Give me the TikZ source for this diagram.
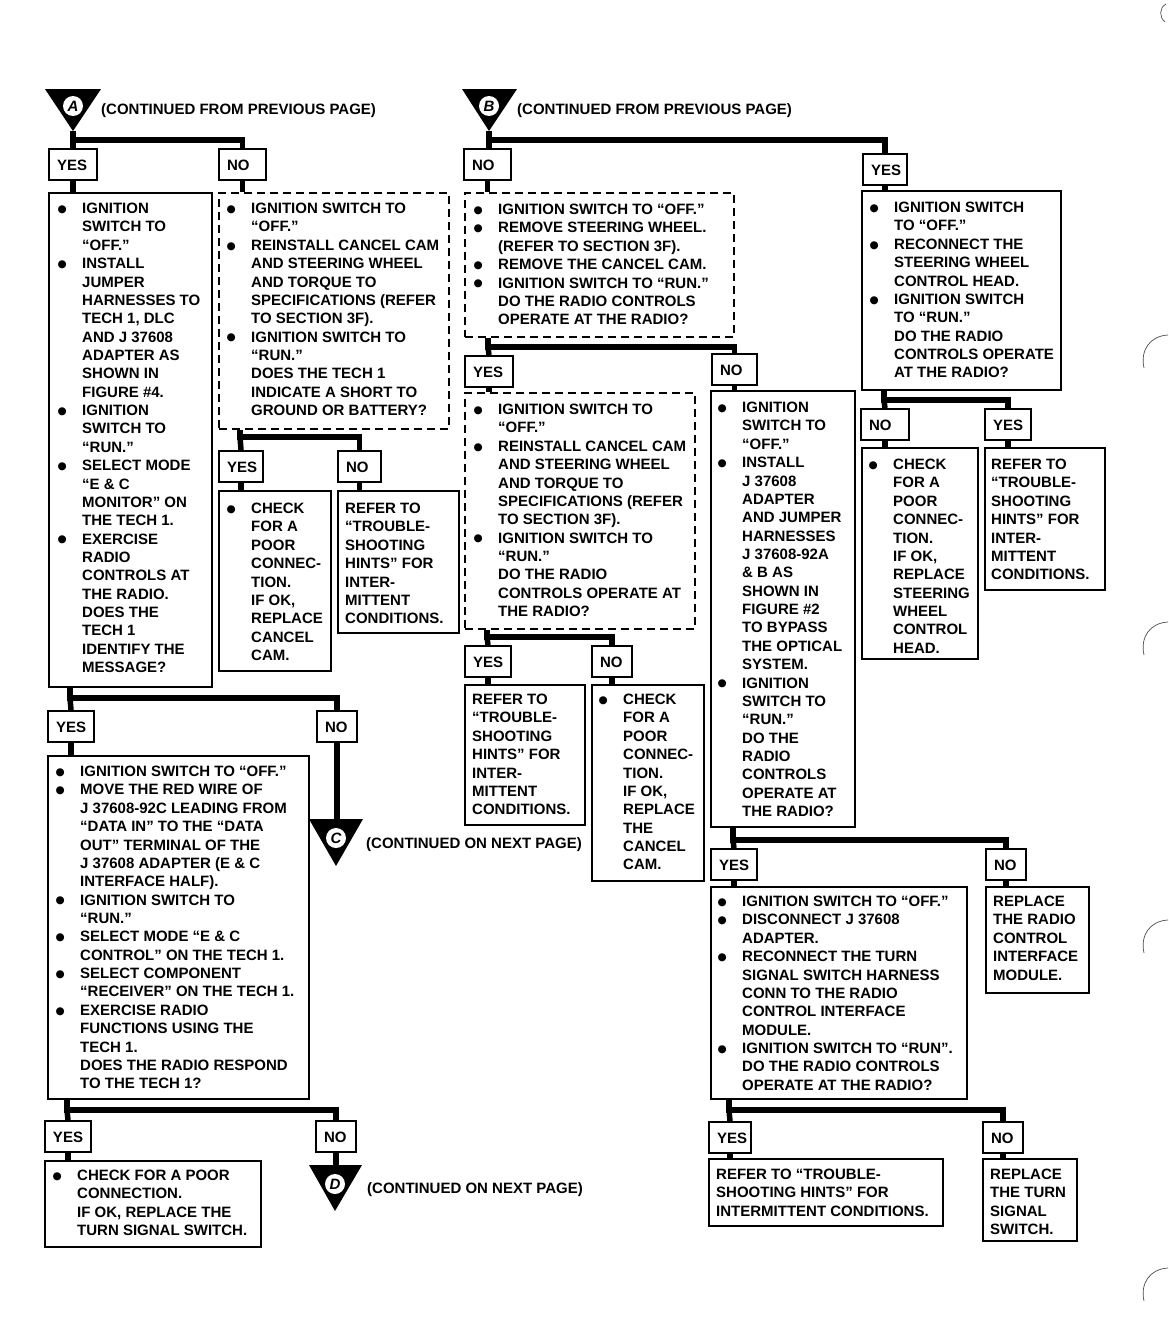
\documentclass[tikz,border=0pt]{standalone}
\usepackage{fontspec}
\setmainfont{Liberation Sans}
\newfontfamily\dejavu{DejaVu Sans}
\newcommand{\bfnt}{\fontsize{15}{18.36}\selectfont\bfseries}
\newcommand{\bl}{\makebox[24.5pt][l]{\raisebox{1.2pt}{\dejavu\fontsize{10.5}{10.5}\selectfont ●}}}
\newcommand{\ii}{\makebox[24.5pt][l]{}}
\newcommand{\st}{\rule{0pt}{12pt}}
\newcommand{\lb}[2]{\makebox[#1pt][l]{\hspace{8pt}#2}}
\tikzset{
  box/.style={draw, line width=2pt, rectangle, inner sep=0pt, anchor=north west},
  dbox/.style={box, dash pattern=on 8pt off 5pt},
  lab/.style={draw, line width=2pt, rectangle, anchor=north west, inner xsep=0pt, inner ysep=0pt,
    minimum height=31pt, text height=11pt, text depth=0pt, font=\bfnt},
  txt/.style={anchor=north west, inner sep=0pt, align=left, font=\bfnt},
  cont/.style={anchor=base west, inner sep=0pt, font=\bfnt},
  conn/.style={line width=5.5pt},
  tri/.style={fill=black},
  letter/.style={circle, fill=white, inner sep=0pt, minimum size=20pt,
    font=\fontsize{15}{15}\selectfont\bfseries\itshape},
  hole/.style={line width=0.7pt, black!70}
}
\begin{document}
\begin{tikzpicture}[x=1pt,y=-1pt]
\useasboundingbox (0,0) rectangle (1168,1328);

% ---------- triangles ----------
\fill[tri] (45,89) -- (101,89) -- (73,131) -- cycle;
\node[letter] (tA) at (73,106) {A};
\coordinate (tAa) at (73,131);
\node[cont] (cA) at (101,114.4) {(CONTINUED FROM PREVIOUS PAGE)};

\fill[tri] (462,89) -- (517,89) -- (489,131) -- cycle;
\node[letter] (tB) at (489,106) {B};
\coordinate (tBa) at (489,131);
\node[cont] (cB) at (517,114.4) {(CONTINUED FROM PREVIOUS PAGE)};

\fill[tri] (309,819) -- (363,819) -- (336,866) -- cycle;
\node[letter] (tC) at (336,838) {C};
\coordinate (tCt) at (336,819);
\node[cont] (cC) at (366,848.4) {(CONTINUED ON NEXT PAGE)};

\fill[tri] (309,1165) -- (362,1165) -- (335,1211) -- cycle;
\node[letter] (tD) at (335,1184) {D};
\coordinate (tDt) at (335,1165);
\node[cont] (cD) at (367,1193.4) {(CONTINUED ON NEXT PAGE)};

% ---------- labels ----------
\node[lab] (yA0) at (48,148) {\lb{48}{YES}};
\node[lab] (nA0) at (218,148) {\lb{47}{NO}};
\node[lab] (yA2) at (218,450) {\lb{44}{YES}};
\node[lab] (nA2) at (337,450) {\lb{43}{NO}};
\node[lab] (yA1) at (47,710) {\lb{46}{YES}};
\node[lab] (nA1) at (316,710) {\lb{40}{NO}};
\node[lab] (yA3) at (44,1120) {\lb{46}{YES}};
\node[lab] (nA3) at (315,1120) {\lb{40}{NO}};
\node[lab] (nB0) at (463,148) {\lb{47}{NO}};
\node[lab] (yB0) at (862,153) {\lb{44}{YES}};
\node[lab] (yB1) at (464,355) {\lb{48}{YES}};
\node[lab] (nB1) at (711,353) {\lb{45}{NO}};
\node[lab] (yB2) at (464,645) {\lb{46}{YES}};
\node[lab] (nB2) at (591,645) {\lb{40}{NO}};
\node[lab] (yB3) at (710,848) {\lb{46}{YES}};
\node[lab] (nB3) at (985,848) {\lb{40}{NO}};
\node[lab] (yB5) at (708,1121) {\lb{42}{YES}};
\node[lab] (nB5) at (982,1121) {\lb{40}{NO}};
\node[lab] (nR1) at (860,408) {\lb{48}{NO}};
\node[lab] (yR1) at (984,408) {\lb{46}{YES}};

% ---------- boxes ----------
\node[box, minimum width=163, minimum height=494] (a1) at (48,192) {};
\node[dbox, minimum width=230, minimum height=236] (a2) at (218,192) {};
\node[box, minimum width=112, minimum height=180] (a2c) at (218,490) {};
\node[box, minimum width=121, minimum height=142] (a2r) at (337,490) {};
\node[box, minimum width=261, minimum height=343] (a3) at (47,755) {};
\node[box, minimum width=216, minimum height=86] (a4) at (44,1160) {};
\node[dbox, minimum width=269, minimum height=144] (b1) at (464,192) {};
\node[box, minimum width=199, minimum height=199] (r1) at (861,190) {};
\node[dbox, minimum width=230, minimum height=236] (b2) at (464,392) {};
\node[box, minimum width=144, minimum height=436] (b3) at (710,390) {};
\node[box, minimum width=120, minimum height=140] (b2r) at (464,684) {};
\node[box, minimum width=112, minimum height=196] (b2c) at (591,684) {};
\node[box, minimum width=256, minimum height=212] (b5) at (710,886) {};
\node[box, minimum width=103, minimum height=106] (b5n) at (985,886) {};
\node[box, minimum width=234, minimum height=67] (b6r) at (708,1158) {};
\node[box, minimum width=94, minimum height=82] (b6n) at (982,1158) {};
\node[box, minimum width=116, minimum height=211] (r2c) at (861,447) {};
\node[box, minimum width=120, minimum height=142] (r2r) at (984,447) {};

% ---------- texts ----------
\node[txt] (a1t) at (57.5,201.4) {\st\bl IGNITION\\ \ii SWITCH TO\\ \ii “OFF.”\\ \bl INSTALL\\ \ii JUMPER\\ \ii HARNESSES TO\\ \ii TECH 1, DLC\\ \ii AND J 37608\\ \ii ADAPTER AS\\ \ii SHOWN IN\\ \ii FIGURE \#4.\\ \bl IGNITION\\ \ii SWITCH TO\\ \ii “RUN.”\\ \bl SELECT MODE\\ \ii “E \& C\\ \ii MONITOR” ON\\ \ii THE TECH 1.\\ \bl EXERCISE\\ \ii RADIO\\ \ii CONTROLS AT\\ \ii THE RADIO.\\ \ii DOES THE\\ \ii TECH 1\\ \ii IDENTIFY THE\\ \ii MESSAGE?};

\node[txt] (a2t) at (226.5,201.4) {\st\bl IGNITION SWITCH TO\\ \ii “OFF.”\\ \bl REINSTALL CANCEL CAM\\ \ii AND STEERING WHEEL\\ \ii AND TORQUE TO\\ \ii SPECIFICATIONS (REFER\\ \ii TO SECTION 3F).\\ \bl IGNITION SWITCH TO\\ \ii “RUN.”\\ \ii DOES THE TECH 1\\ \ii INDICATE A SHORT TO\\ \ii GROUND OR BATTERY?};

\node[txt] (a2ct) at (226.5,501.4) {\st\bl CHECK\\ \ii FOR A\\ \ii POOR\\ \ii CONNEC-\\ \ii TION.\\ \ii IF OK,\\ \ii REPLACE\\ \ii CANCEL\\ \ii CAM.};

\node[txt] (a2rt) at (345,501.4) {\st REFER TO\\ “TROUBLE-\\ SHOOTING\\ HINTS” FOR\\ INTER-\\ MITTENT\\ CONDITIONS.};

\node[txt] (a3t) at (55.5,764.4) {\st\bl IGNITION SWITCH TO “OFF.”\\ \bl MOVE THE RED WIRE OF\\ \ii J 37608-92C LEADING FROM\\ \ii “DATA IN” TO THE “DATA\\ \ii OUT” TERMINAL OF THE\\ \ii J 37608 ADAPTER (E \& C\\ \ii INTERFACE HALF).\\ \bl IGNITION SWITCH TO\\ \ii “RUN.”\\ \bl SELECT MODE “E \& C\\ \ii CONTROL” ON THE TECH 1.\\ \bl SELECT COMPONENT\\ \ii “RECEIVER” ON THE TECH 1.\\ \bl EXERCISE RADIO\\ \ii FUNCTIONS USING THE\\ \ii TECH 1.\\ \ii DOES THE RADIO RESPOND\\ \ii TO THE TECH 1?};

\node[txt] (a4t) at (52.5,1168.4) {\st\bl CHECK FOR A POOR\\ \ii CONNECTION.\\ \ii IF OK, REPLACE THE\\ \ii TURN SIGNAL SWITCH.};

\node[txt] (b1t) at (473.5,202.4) {\st\bl IGNITION SWITCH TO “OFF.”\\ \bl REMOVE STEERING WHEEL.\\ \ii (REFER TO SECTION 3F).\\ \bl REMOVE THE CANCEL CAM.\\ \bl IGNITION SWITCH TO “RUN.”\\ \ii DO THE RADIO CONTROLS\\ \ii OPERATE AT THE RADIO?};

\node[txt] (r1t) at (869.5,200.4) {\st\bl IGNITION SWITCH\\ \ii TO “OFF.”\\ \bl RECONNECT THE\\ \ii STEERING WHEEL\\ \ii CONTROL HEAD.\\ \bl IGNITION SWITCH\\ \ii TO “RUN.”\\ \ii DO THE RADIO\\ \ii CONTROLS OPERATE\\ \ii AT THE RADIO?};

\node[txt] (b2t) at (473.5,402.4) {\st\bl IGNITION SWITCH TO\\ \ii “OFF.”\\ \bl REINSTALL CANCEL CAM\\ \ii AND STEERING WHEEL\\ \ii AND TORQUE TO\\ \ii SPECIFICATIONS (REFER\\ \ii TO SECTION 3F).\\ \bl IGNITION SWITCH TO\\ \ii “RUN.”\\ \ii DO THE RADIO\\ \ii CONTROLS OPERATE AT\\ \ii THE RADIO?};

\node[txt] (b3t) at (717.5,400.4) {\st\bl IGNITION\\ \ii SWITCH TO\\ \ii “OFF.”\\ \bl INSTALL\\ \ii J 37608\\ \ii ADAPTER\\ \ii AND JUMPER\\ \ii HARNESSES\\ \ii J 37608-92A\\ \ii \& B AS\\ \ii SHOWN IN\\ \ii FIGURE \#2\\ \ii TO BYPASS\\ \ii THE OPTICAL\\ \ii SYSTEM.\\ \bl IGNITION\\ \ii SWITCH TO\\ \ii “RUN.”\\ \ii DO THE\\ \ii RADIO\\ \ii CONTROLS\\ \ii OPERATE AT\\ \ii THE RADIO?};

\node[txt] (b2rt) at (472,692.4) {\st REFER TO\\ “TROUBLE-\\ SHOOTING\\ HINTS” FOR\\ INTER-\\ MITTENT\\ CONDITIONS.};

\node[txt] (b2ct) at (598.5,692.4) {\st\bl CHECK\\ \ii FOR A\\ \ii POOR\\ \ii CONNEC-\\ \ii TION.\\ \ii IF OK,\\ \ii REPLACE\\ \ii THE\\ \ii CANCEL\\ \ii CAM.};

\node[txt] (b5t) at (717.5,894.4) {\st\bl IGNITION SWITCH TO “OFF.”\\ \bl DISCONNECT J 37608\\ \ii ADAPTER.\\ \bl RECONNECT THE TURN\\ \ii SIGNAL SWITCH HARNESS\\ \ii CONN TO THE RADIO\\ \ii CONTROL INTERFACE\\ \ii MODULE.\\ \bl IGNITION SWITCH TO “RUN”.\\ \ii DO THE RADIO CONTROLS\\ \ii OPERATE AT THE RADIO?};

\node[txt] (b5nt) at (993,894.4) {\st REPLACE\\ THE RADIO\\ CONTROL\\ INTERFACE\\ MODULE.};

\node[txt] (b6rt) at (716,1167.4) {\st REFER TO “TROUBLE-\\ SHOOTING HINTS” FOR\\ INTERMITTENT CONDITIONS.};

\node[txt] (b6nt) at (990,1167.4) {\st REPLACE\\ THE TURN\\ SIGNAL\\ SWITCH.};

\node[txt] (r2ct) at (868.5,457.4) {\st\bl CHECK\\ \ii FOR A\\ \ii POOR\\ \ii CONNEC-\\ \ii TION.\\ \ii IF OK,\\ \ii REPLACE\\ \ii STEERING\\ \ii WHEEL\\ \ii CONTROL\\ \ii HEAD.};

\node[txt] (r2rt) at (991,457.4) {\st REFER TO\\ “TROUBLE-\\ SHOOTING\\ HINTS” FOR\\ INTER-\\ MITTENT\\ CONDITIONS.};

% ---------- connectors ----------
% A entry
\coordinate (jA0) at (73,140);
\draw[conn] (tAa) |- (nA0.north |- jA0) -- (nA0.north);
\draw[conn] (jA0) -- (jA0 |- yA0.north);
\draw[conn] (yA0.south) -- (yA0.south |- a1.north);
\draw[conn] (nA0.south) -- (nA0.south |- a2.north);
% A2 decision
\coordinate (jA2) at (240,437);
\draw[conn] (jA2 |- a2.south) |- (nA2.north |- jA2) -- (nA2.north);
\draw[conn] (jA2) -- (yA2.north);
\draw[conn] (yA2.south) -- (yA2.south |- a2c.north);
\draw[conn] (nA2.south) -- (nA2.south |- a2r.north);
% A1 decision
\coordinate (jA1) at (70,698);
\draw[conn] (jA1 |- a1.south) |- (nA1.north |- jA1) -- (nA1.north);
\draw[conn] (jA1) -- (yA1.north);
\draw[conn] (yA1.south) -- (yA1.south |- a3.north);
\draw[conn] (nA1.south) -- (nA1.south |- tCt);
% A3 decision
\coordinate (jA3) at (67,1110);
\draw[conn] (jA3 |- a3.south) |- (nA3.north |- jA3) -- (nA3.north);
\draw[conn] (jA3) -- (yA3.north);
\draw[conn] (yA3.south) -- (yA3.south |- a4.north);
\draw[conn] (nA3.south) -- (nA3.south |- tDt);
% B entry
\coordinate (jB0) at (489,140);
\draw[conn] (tBa) |- (yB0.north |- jB0) -- (yB0.north);
\draw[conn] (jB0) -- (jB0 |- nB0.north);
\draw[conn] (nB0.south) -- (nB0.south |- b1.north);
\draw[conn] (yB0.south) -- (yB0.south |- r1.north);
% B1 decision
\coordinate (jB1) at (488,347);
\draw[conn] (jB1 |- b1.south) |- (nB1.north |- jB1) -- (nB1.north);
\draw[conn] (jB1) -- (yB1.north);
\draw[conn] (yB1.south) -- (yB1.south |- b2.north);
\draw[conn] (nB1.south) -- (nB1.south |- b3.north);
% B2 decision
\coordinate (jB2) at (487,637);
\draw[conn] (jB2 |- b2.south) |- (nB2.north |- jB2) -- (nB2.north);
\draw[conn] (jB2) -- (yB2.north);
\draw[conn] (yB2.south) -- (yB2.south |- b2r.north);
\draw[conn] (nB2.south) -- (nB2.south |- b2c.north);
% B3 decision
\coordinate (jB3) at (733,840);
\draw[conn] (jB3 |- b3.south) |- (nB3.north |- jB3) -- (nB3.north);
\draw[conn] (jB3) -- (yB3.north);
\draw[conn] (yB3.south) -- (yB3.south |- b5.north);
\draw[conn] (nB3.south) -- (nB3.south |- b5n.north);
% B5 decision
\coordinate (jB5) at (729,1110);
\draw[conn] (jB5 |- b5.south) |- (nB5.north |- jB5) -- (nB5.north);
\draw[conn] (jB5) -- (yB5.north);
\draw[conn] (yB5.south) -- (yB5.south |- b6r.north);
\draw[conn] (nB5.south) -- (nB5.south |- b6n.north);
% R1 decision
\coordinate (jR1) at (884,400);
\draw[conn] (jR1 |- r1.south) |- (yR1.north |- jR1) -- (yR1.north);
\draw[conn] (jR1) -- (nR1.north);
\draw[conn] (nR1.south) -- (nR1.south |- r2c.north);
\draw[conn] (yR1.south) -- (yR1.south |- r2r.north);

% ---------- page-edge punch marks ----------
\draw[hole] (1166,4) .. controls (1159,8) and (1159,17) .. (1165,22);
\draw[hole] (1168,335) .. controls (1150,336) and (1140,350) .. (1144,368);
\draw[hole] (1168,622) .. controls (1150,623) and (1140,637) .. (1144,655);
\draw[hole] (1168,920) .. controls (1150,921) and (1140,935) .. (1144,953);
\draw[hole] (1168,1268) .. controls (1150,1269) and (1140,1283) .. (1144,1301);
\end{tikzpicture}
\end{document}
